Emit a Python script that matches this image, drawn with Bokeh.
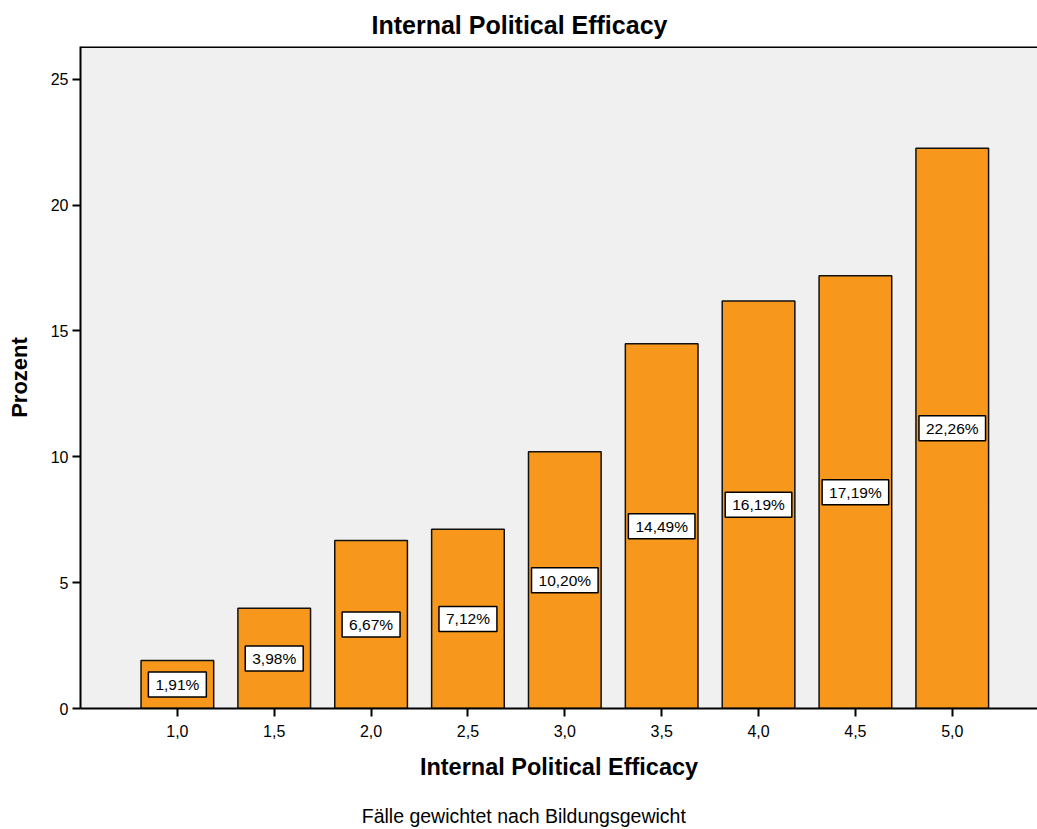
from bokeh.plotting import figure
from bokeh.models import ColumnDataSource, Range1d, FixedTicker, LinearAxis
from bokeh.core.properties import value
from bokeh.embed import file_html
from bokeh.resources import INLINE

# Scale values and their display labels
scale_values = [1.0, 1.5, 2.0, 2.5, 3.0, 3.5, 4.0, 4.5, 5.0]
tick_labels = ["1,0", "1,5", "2,0", "2,5", "3,0", "3,5", "4,0", "4,5", "5,0"]
percent = [1.91, 3.98, 6.67, 7.12, 10.20, 14.49, 16.19, 17.19, 22.26]

FONT = "Liberation Sans"
X_MIN, X_MAX = 0.5, 5.44
Y_MAX = 26.3

src = ColumnDataSource(dict(
    x=scale_values,
    top=percent,
    mid=[v / 2 for v in percent],
    label=[f"{v:.2f}%".replace(".", ",") for v in percent],
))

p = figure(
    width=1037, height=829,
    x_range=Range1d(X_MIN, X_MAX), y_range=Range1d(0, Y_MAX),
    output_backend="svg", toolbar_location=None,
    min_border_left=80, min_border_right=0, min_border_top=45, min_border_bottom=0,
    background_fill_color="#f0f0f0", border_fill_color="white",
)

p.vbar(x="x", top="top", bottom=0, width=0.375, source=src,
       fill_color="#f7981d", line_color="#111111", line_width=1.5)

# Value labels in white boxes at half bar height
p.text(x="x", y="mid", text="label", source=src,
       text_align="center", text_baseline="middle",
       text_font=value(FONT), text_font_size="15.5px", text_color="black",
       background_fill_color="white", border_line_color="black", border_line_width=1.5,
       padding=(7, 4))

# Frame: top line only, no right border
p.outline_line_color = None
p.grid.visible = False

p.xaxis.ticker = FixedTicker(ticks=scale_values)
p.xaxis.major_label_overrides = {v: t for v, t in zip(scale_values, tick_labels)}
p.yaxis.ticker = FixedTicker(ticks=[0, 5, 10, 15, 20, 25])

for ax in (p.xaxis, p.yaxis):
    ax.axis_line_color = "black"
    ax.axis_line_width = 2
    ax.major_tick_line_color = "black"
    ax.major_tick_line_width = 2
    ax.major_tick_out = 8
    ax.major_tick_in = 0
    ax.minor_tick_line_color = None
    ax.major_label_text_font = FONT
    ax.major_label_text_font_size = "16px"
    ax.major_label_text_color = "black"
    ax.axis_label_text_font = FONT
    ax.axis_label_text_font_style = "bold"
    ax.axis_label_text_color = "black"

p.xaxis.axis_label = "Internal Political Efficacy"
p.xaxis.axis_label_text_font_size = "23.5px"
p.xaxis.major_label_standoff = 8
p.xaxis.axis_label_standoff = 14
p.yaxis.axis_label = "Prozent"
p.yaxis.axis_label_text_font_size = "22px"
p.yaxis.major_label_standoff = 4
p.yaxis.axis_label_standoff = 16

# Weighting note: a bare axis below the main one that only carries a label;
# trailing no-break spaces move the centred text a little to the left
note_axis = LinearAxis(
    ticker=FixedTicker(ticks=[]),
    axis_line_color=None, major_tick_line_color=None, minor_tick_line_color=None,
    major_tick_out=0, major_label_standoff=0,
    axis_label="Fälle gewichtet nach Bildungsgewicht" + "\u00a0" * 13,
    axis_label_standoff=22,
    axis_label_text_font=FONT, axis_label_text_font_size="19.5px",
    axis_label_text_font_style="normal", axis_label_text_color="black",
)
p.add_layout(note_axis, "below")

# Top frame line
p.hbar(y=[Y_MAX], left=[X_MIN], right=[X_MAX], height=0, line_color="black", line_width=3)

p.title.text = "Internal Political Efficacy"
p.title.align = "left"
p.title.offset = 291
p.title.standoff = 16
p.title.text_font = FONT
p.title.text_font_size = "25px"
p.title.text_font_style = "bold"
p.title.text_color = "black"

open("out.html", "w").write(file_html(p, INLINE))
